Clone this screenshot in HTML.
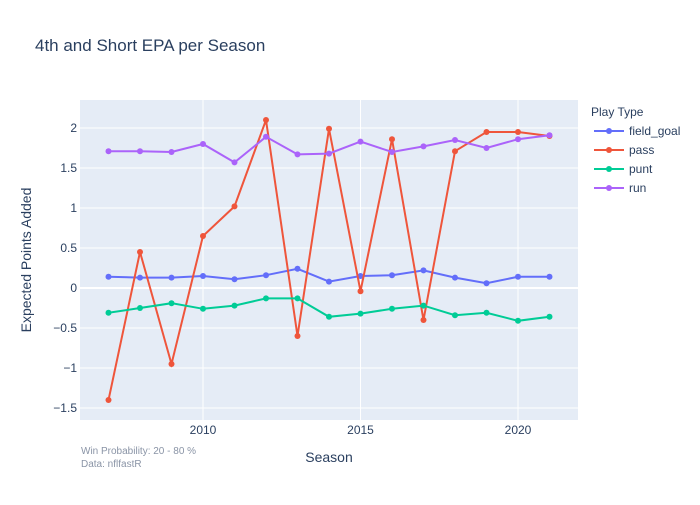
<!DOCTYPE html>
<html><head><meta charset="utf-8"><style>
body{margin:0;background:#fff;font-family:"Liberation Sans","Open Sans",sans-serif;}
svg text{font-family:"Liberation Sans",sans-serif;}
</style></head><body>
<svg id="c" width="700" height="500" xmlns="http://www.w3.org/2000/svg">
<rect width="700" height="500" fill="#fff"/>
<text x="35" y="51" font-size="17" fill="#2a3f5f">4th and Short EPA per Season</text>
<rect x="80" y="100" width="498" height="320" fill="#e5ecf6"/>
<g id="grid"></g><g id="series"></g><g id="axes"></g>
<text x="329" y="462" font-size="14" fill="#2a3f5f" text-anchor="middle">Season</text>
<text transform="translate(31,260) rotate(-90)" font-size="14" fill="#2a3f5f" text-anchor="middle">Expected Points Added</text>
<text x="81" y="454" font-size="10" fill="#8a94a6">Win Probability: 20 - 80 %</text>
<text x="81" y="467" font-size="10" fill="#8a94a6">Data: nflfastR</text>
<text x="591" y="116" font-size="12" fill="#2a3f5f">Play Type</text>
<g id="legend"></g>
</svg>
<script>
const years=[2007,2008,2009,2010,2011,2012,2013,2014,2015,2016,2017,2018,2019,2020,2021];
const fieldGoal=[0.14,0.13,0.13,0.15,0.11,0.16,0.24,0.08,0.15,0.16,0.22,0.13,0.06,0.14,0.14];
const pass=[-1.40,0.45,-0.95,0.65,1.02,2.10,-0.60,1.99,-0.04,1.86,-0.40,1.71,1.95,1.95,1.90];
const punt=[-0.31,-0.25,-0.19,-0.26,-0.22,-0.13,-0.13,-0.36,-0.32,-0.26,-0.22,-0.34,-0.31,-0.41,-0.36];
const run=[1.71,1.71,1.70,1.80,1.57,1.89,1.67,1.68,1.83,1.70,1.77,1.85,1.75,1.86,1.91];
const xTicks=[2010,2015,2020];
const yTicks=[-1.5,-1,-0.5,0,0.5,1,1.5,2];
const yLabels=["−1.5","−1","−0.5","0","0.5","1","1.5","2"];
const seriesNames=["field_goal","pass","punt","run"];
const NS="http://www.w3.org/2000/svg";
const X=v=>203+(v-2010)*31.5;
const Y=v=>288-v*80;
function mk(tag,attrs,parent){const e=document.createElementNS(NS,tag);for(const k in attrs)e.setAttribute(k,attrs[k]);parent.appendChild(e);return e;}
const grid=document.getElementById('grid'),axes=document.getElementById('axes');
xTicks.forEach(t=>{const l=mk('line',{x1:X(t),x2:X(t),y1:100,y2:420,stroke:'#fff','stroke-width':1},grid);

const tx=mk('text',{x:X(t),y:434,'font-size':12,fill:'#2a3f5f','text-anchor':'middle'},axes);tx.textContent=t;
});
yTicks.forEach((t,i)=>{const l=mk('line',{x1:80,x2:578,y1:Y(t),y2:Y(t),stroke:'#fff','stroke-width':t===0?2:1},grid);

const tx=mk('text',{x:77,y:Y(t)+4,'font-size':12,fill:'#2a3f5f','text-anchor':'end'},axes);tx.textContent=yLabels[i];
});
const data=[fieldGoal,pass,punt,run],colors=['#636efa','#ef553b','#00cc96','#ab63fa'];
const sg=document.getElementById('series'),lg=document.getElementById('legend');
data.forEach((d,s)=>{const g=mk('g',{},sg);

mk('polyline',{points:d.map((v,i)=>X(years[i])+','+Y(v)).join(' '),fill:'none',stroke:colors[s],'stroke-width':2},g);
d.forEach((v,i)=>{const c=mk('circle',{cx:X(years[i]),cy:Y(v),r:3,fill:colors[s]},g);
});
const ly=131+s*19;const lgI=mk('g',{},lg);

mk('line',{x1:594,x2:624,y1:ly,y2:ly,stroke:colors[s],'stroke-width':2},lgI);
mk('circle',{cx:609,cy:ly,r:3,fill:colors[s]},lgI);
const t=mk('text',{x:629,y:ly+4,'font-size':12,fill:'#2a3f5f'},lgI);t.textContent=seriesNames[s];});
</script>
</body></html>
